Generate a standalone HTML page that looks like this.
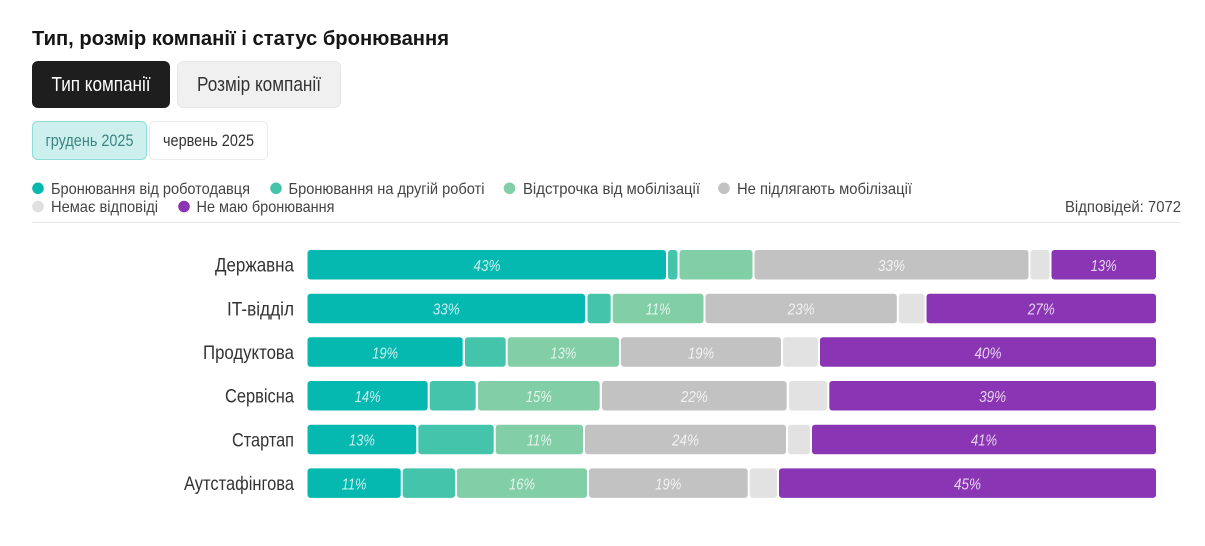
<!DOCTYPE html>
<html><head><meta charset="utf-8"><style>
html,body{margin:0;padding:0;background:#fff;}
svg{display:block;}
text{font-family:"Liberation Sans","DejaVu Sans",sans-serif;}
</style></head><body>
<svg width="1205" height="546" viewBox="0 0 1205 546" xmlns="http://www.w3.org/2000/svg">
<rect width="1205" height="546" fill="#fff"/>
<text x="32" y="45" font-size="20" font-weight="bold" fill="#151515" textLength="417" lengthAdjust="spacingAndGlyphs">Тип, розмір компанії і статус бронювання</text>

<rect x="32" y="61" width="138" height="47" rx="6" fill="#1e1e1e"/>
<text x="101" y="91" font-size="20" fill="#fff" text-anchor="middle" textLength="99" lengthAdjust="spacingAndGlyphs">Тип компанії</text>
<rect x="177.5" y="61.5" width="163" height="46" rx="6" fill="#f0f0f0" stroke="#e6e6e6"/>
<text x="259" y="91" font-size="20" fill="#333" text-anchor="middle" textLength="124" lengthAdjust="spacingAndGlyphs">Розмір компанії</text>

<rect x="32.5" y="121.5" width="114" height="38" rx="5" fill="#cdf0ee" stroke="#8edcd6"/>
<text x="89.5" y="146" font-size="17" fill="#3b8583" text-anchor="middle" textLength="88" lengthAdjust="spacingAndGlyphs">грудень 2025</text>
<rect x="149.5" y="121.5" width="118" height="38" rx="5" fill="#fff" stroke="#ebebeb"/>
<text x="208.5" y="146" font-size="17" fill="#333" text-anchor="middle" textLength="91" lengthAdjust="spacingAndGlyphs">червень 2025</text>

<g font-size="16" fill="#444">
<circle cx="38" cy="188.3" r="5.8" fill="#05b8b0"/>
<text x="51" y="194" textLength="199" lengthAdjust="spacingAndGlyphs">Бронювання від роботодавця</text>
<circle cx="276" cy="188.3" r="5.8" fill="#45c4ac"/>
<text x="288.5" y="194" textLength="196" lengthAdjust="spacingAndGlyphs">Бронювання на другій роботі</text>
<circle cx="509.5" cy="188.3" r="5.8" fill="#82cea6"/>
<text x="523" y="194" textLength="177" lengthAdjust="spacingAndGlyphs">Відстрочка від мобілізації</text>
<circle cx="724" cy="188.3" r="5.8" fill="#c2c2c2"/>
<text x="737" y="194" textLength="175" lengthAdjust="spacingAndGlyphs">Не підлягають мобілізації</text>
<circle cx="38" cy="206.5" r="5.8" fill="#e0e0e0"/>
<text x="51" y="212" textLength="107" lengthAdjust="spacingAndGlyphs">Немає відповіді</text>
<circle cx="184" cy="206.5" r="5.8" fill="#8a36b4"/>
<text x="196.5" y="212" textLength="138" lengthAdjust="spacingAndGlyphs">Не маю бронювання</text>
<text x="1181" y="212" text-anchor="end" textLength="116" lengthAdjust="spacingAndGlyphs">Відповідей: 7072</text>
</g>
<rect x="32" y="222" width="1149" height="1" fill="#e8e8e8"/>

<g font-size="19.5" fill="#333" text-anchor="end">
<text x="294" y="271.7" textLength="79" lengthAdjust="spacingAndGlyphs">Державна</text>
<text x="294" y="315.4" textLength="67" lengthAdjust="spacingAndGlyphs">IT-відділ</text>
<text x="294" y="359" textLength="91" lengthAdjust="spacingAndGlyphs">Продуктова</text>
<text x="294" y="402.7" textLength="69" lengthAdjust="spacingAndGlyphs">Сервісна</text>
<text x="294" y="446.4" textLength="62" lengthAdjust="spacingAndGlyphs">Стартап</text>
<text x="294" y="490.1" textLength="110" lengthAdjust="spacingAndGlyphs">Аутстафінгова</text>
</g>

<!-- Row 1 -->
<g>
<rect x="307.5" y="250" width="358.5" height="29.5" rx="3" fill="#05b8b0"/>
<rect x="668" y="250" width="9.5" height="29.5" rx="3" fill="#45c4ac"/>
<rect x="679.5" y="250" width="73" height="29.5" rx="3" fill="#82cea6"/>
<rect x="754.5" y="250" width="274" height="29.5" rx="3" fill="#c2c2c2"/>
<rect x="1030.5" y="250" width="19" height="29.5" rx="3" fill="#e2e2e2"/>
<rect x="1051.5" y="250" width="104.5" height="29.5" rx="3" fill="#8a36b4"/>
</g>
<!-- Row 2 -->
<g>
<rect x="307.5" y="293.7" width="277.5" height="29.5" rx="3" fill="#05b8b0"/>
<rect x="587.5" y="293.7" width="23.2" height="29.5" rx="3" fill="#45c4ac"/>
<rect x="612.7" y="293.7" width="90.8" height="29.5" rx="3" fill="#82cea6"/>
<rect x="705.5" y="293.7" width="191.3" height="29.5" rx="3" fill="#c2c2c2"/>
<rect x="898.8" y="293.7" width="25.7" height="29.5" rx="3" fill="#e2e2e2"/>
<rect x="926.5" y="293.7" width="229.5" height="29.5" rx="3" fill="#8a36b4"/>
</g>
<!-- Row 3 -->
<g>
<rect x="307.5" y="337.3" width="155.2" height="29.5" rx="3" fill="#05b8b0"/>
<rect x="465" y="337.3" width="40.7" height="29.5" rx="3" fill="#45c4ac"/>
<rect x="507.7" y="337.3" width="111.3" height="29.5" rx="3" fill="#82cea6"/>
<rect x="621" y="337.3" width="160" height="29.5" rx="3" fill="#c2c2c2"/>
<rect x="783" y="337.3" width="35" height="29.5" rx="3" fill="#e2e2e2"/>
<rect x="820" y="337.3" width="336" height="29.5" rx="3" fill="#8a36b4"/>
</g>
<!-- Row 4 -->
<g>
<rect x="307.5" y="381" width="120.2" height="29.5" rx="3" fill="#05b8b0"/>
<rect x="429.7" y="381" width="46" height="29.5" rx="3" fill="#45c4ac"/>
<rect x="478" y="381" width="121.7" height="29.5" rx="3" fill="#82cea6"/>
<rect x="602" y="381" width="184.7" height="29.5" rx="3" fill="#c2c2c2"/>
<rect x="789" y="381" width="38.3" height="29.5" rx="3" fill="#e2e2e2"/>
<rect x="829.3" y="381" width="326.7" height="29.5" rx="3" fill="#8a36b4"/>
</g>
<!-- Row 5 -->
<g>
<rect x="307.5" y="424.7" width="108.8" height="29.5" rx="3" fill="#05b8b0"/>
<rect x="418.3" y="424.7" width="75.4" height="29.5" rx="3" fill="#45c4ac"/>
<rect x="495.7" y="424.7" width="87.3" height="29.5" rx="3" fill="#82cea6"/>
<rect x="585" y="424.7" width="201" height="29.5" rx="3" fill="#c2c2c2"/>
<rect x="788" y="424.7" width="22" height="29.5" rx="3" fill="#e2e2e2"/>
<rect x="812" y="424.7" width="344" height="29.5" rx="3" fill="#8a36b4"/>
</g>
<!-- Row 6 -->
<g>
<rect x="307.5" y="468.4" width="93.2" height="29.5" rx="3" fill="#05b8b0"/>
<rect x="402.7" y="468.4" width="52.3" height="29.5" rx="3" fill="#45c4ac"/>
<rect x="457" y="468.4" width="130" height="29.5" rx="3" fill="#82cea6"/>
<rect x="589" y="468.4" width="158.7" height="29.5" rx="3" fill="#c2c2c2"/>
<rect x="749.7" y="468.4" width="27.3" height="29.5" rx="3" fill="#e2e2e2"/>
<rect x="779" y="468.4" width="377" height="29.5" rx="3" fill="#8a36b4"/>
</g>

<g font-size="16" font-style="italic" fill="#ffffff" fill-opacity="0.78" text-anchor="middle">
<text x="487" y="271" textLength="27" lengthAdjust="spacingAndGlyphs">43%</text>
<text x="891.5" y="271" textLength="27" lengthAdjust="spacingAndGlyphs">33%</text>
<text x="1103.7" y="271" textLength="26" lengthAdjust="spacingAndGlyphs">13%</text>

<text x="446.2" y="314.7" textLength="27" lengthAdjust="spacingAndGlyphs">33%</text>
<text x="658.1" y="314.7" textLength="25" lengthAdjust="spacingAndGlyphs">11%</text>
<text x="801.1" y="314.7" textLength="27" lengthAdjust="spacingAndGlyphs">23%</text>
<text x="1041.2" y="314.7" textLength="27" lengthAdjust="spacingAndGlyphs">27%</text>

<text x="385.1" y="358.3" textLength="26" lengthAdjust="spacingAndGlyphs">19%</text>
<text x="563.3" y="358.3" textLength="26" lengthAdjust="spacingAndGlyphs">13%</text>
<text x="701" y="358.3" textLength="26" lengthAdjust="spacingAndGlyphs">19%</text>
<text x="988" y="358.3" textLength="27" lengthAdjust="spacingAndGlyphs">40%</text>

<text x="367.6" y="402" textLength="26" lengthAdjust="spacingAndGlyphs">14%</text>
<text x="538.8" y="402" textLength="26" lengthAdjust="spacingAndGlyphs">15%</text>
<text x="694.3" y="402" textLength="27" lengthAdjust="spacingAndGlyphs">22%</text>
<text x="992.6" y="402" textLength="27" lengthAdjust="spacingAndGlyphs">39%</text>

<text x="361.9" y="445.7" textLength="26" lengthAdjust="spacingAndGlyphs">13%</text>
<text x="539.3" y="445.7" textLength="25" lengthAdjust="spacingAndGlyphs">11%</text>
<text x="685.5" y="445.7" textLength="27" lengthAdjust="spacingAndGlyphs">24%</text>
<text x="984" y="445.7" textLength="26" lengthAdjust="spacingAndGlyphs">41%</text>

<text x="354.1" y="489.4" textLength="25" lengthAdjust="spacingAndGlyphs">11%</text>
<text x="522" y="489.4" textLength="26" lengthAdjust="spacingAndGlyphs">16%</text>
<text x="668.3" y="489.4" textLength="26" lengthAdjust="spacingAndGlyphs">19%</text>
<text x="967.5" y="489.4" textLength="27" lengthAdjust="spacingAndGlyphs">45%</text>
</g>
</svg>
</body></html>
